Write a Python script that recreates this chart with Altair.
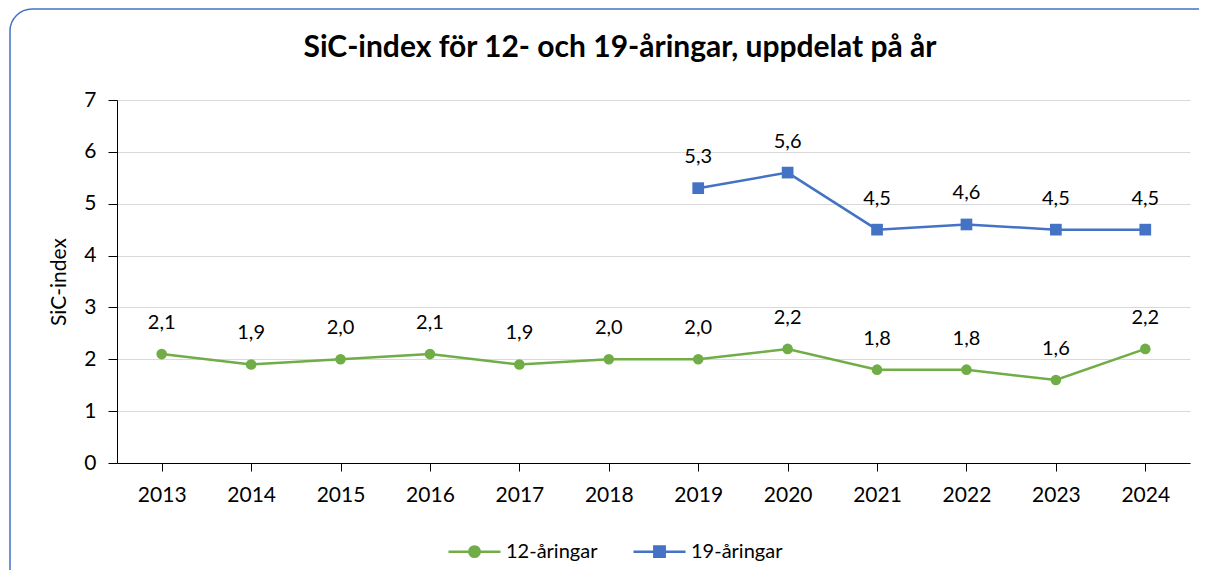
import altair as alt
import pandas as pd

years = ["2013", "2014", "2015", "2016", "2017", "2018", "2019", "2020", "2021", "2022", "2023", "2024"]
values_12 = [2.1, 1.9, 2.0, 2.1, 1.9, 2.0, 2.0, 2.2, 1.8, 1.8, 1.6, 2.2]
years_19 = ["2019", "2020", "2021", "2022", "2023", "2024"]
values_19 = [5.3, 5.6, 4.5, 4.6, 4.5, 4.5]
series_names = ["12-åringar", "19-åringar"]
colors = ["#70AD47", "#4472C4"]
title_text = "SiC-index för 12- och 19-åringar, uppdelat på år"

df = pd.concat([
    pd.DataFrame({"year": years, "value": values_12, "series": series_names[0]}),
    pd.DataFrame({"year": years_19, "value": values_19, "series": series_names[1]}),
], ignore_index=True)

FONT = "Lato"
W, H = 1073, 363

x_enc = alt.X("year:O", sort=years, scale=alt.Scale(type="point", padding=0.5),
              axis=alt.Axis(title=None, labelAngle=0, labelFontSize=21, labelPadding=13,
                            tickSize=8, grid=False, domainColor="#000", tickColor="#000",
                            labelColor="#000"))
y_enc = alt.Y("value:Q", scale=alt.Scale(domain=[0, 7], nice=False),
              axis=alt.Axis(title="SiC-index", values=[0, 1, 2, 3, 4, 5, 6, 7], tickSize=9,
                            labelFontSize=21, labelPadding=12, titleFontSize=21,
                            titleFontWeight="normal", titlePadding=14, titleColor="#000",
                            gridColor="#d9d9d9", domainColor="#000", tickColor="#000",
                            labelColor="#000"))

base = alt.Chart(df)

frame = alt.Chart(alt.Data(values=[{"a": 1}])).mark_rect(
    fill=None, stroke="#4472C4", strokeWidth=1.5, cornerRadius=22, clip=False
).encode(x=alt.value(-107), x2=alt.value(1120), y=alt.value(-91), y2=alt.value(520))

title = alt.Chart(alt.Data(values=[{"t": title_text}])).mark_text(
    font=FONT, fontSize=30, fontWeight="bold", color="#000", align="center", baseline="alphabetic"
).encode(x=alt.value(503), y=alt.value(-43), text="t:N")

layers = [frame, title]
shapes = ["circle", "square"]
sizes = [113, 137]
for name, col, shp, sz in zip(series_names, colors, shapes, sizes):
    sub = base.transform_filter(alt.datum.series == name)
    layers.append(sub.mark_line(strokeWidth=2.5, color=col).encode(x=x_enc, y=y_enc))
    layers.append(sub.mark_point(filled=True, shape=shp, size=sz, opacity=1, color=col)
                  .encode(x=x_enc, y=y_enc))

labels = base.transform_calculate(
    label="replace(format(datum.value, '.1f'), '.', ',')"
).mark_text(dy=-31, fontSize=20, font=FONT, color="#000", baseline="middle").encode(
    x=x_enc, y=y_enc, text="label:N")
layers.append(labels)

circle_path = "M-1,0H1M-0.2,0A0.2,0.2 0 1,1 0.2,0A0.2,0.2 0 1,1 -0.2,0Z"
square_path = "M-1,0H1M-0.2,-0.2H0.2V0.2H-0.2Z"


def leg():
    return alt.Legend(title=None, orient="none", direction="horizontal",
                      legendX=330, legendY=424, symbolSize=2704, symbolOpacity=1,
                      symbolStrokeWidth=2.5, labelFontSize=20, labelFont=FONT,
                      labelColor="#000", columnPadding=30, labelOffset=4)


legend_layer = base.mark_point(filled=True, opacity=0).encode(
    x=x_enc, y=y_enc,
    fill=alt.Fill("series:N", scale=alt.Scale(domain=series_names, range=colors), legend=leg()),
    stroke=alt.Stroke("series:N", scale=alt.Scale(domain=series_names, range=colors), legend=leg()),
    shape=alt.Shape("series:N", scale=alt.Scale(domain=series_names, range=[circle_path, square_path]),
                    legend=leg()),
)
layers.append(legend_layer)

chart = alt.layer(*layers).properties(
    width=W, height=H,
    autosize=alt.AutoSizeParams(type="none"),
    padding={"left": 109, "top": 92, "right": 9, "bottom": 107},
).configure(font=FONT).configure_view(stroke=None).configure_axis(
    labelFont=FONT, titleFont=FONT)

chart.save("out.html", embed_options={"renderer": "svg", "actions": False})
